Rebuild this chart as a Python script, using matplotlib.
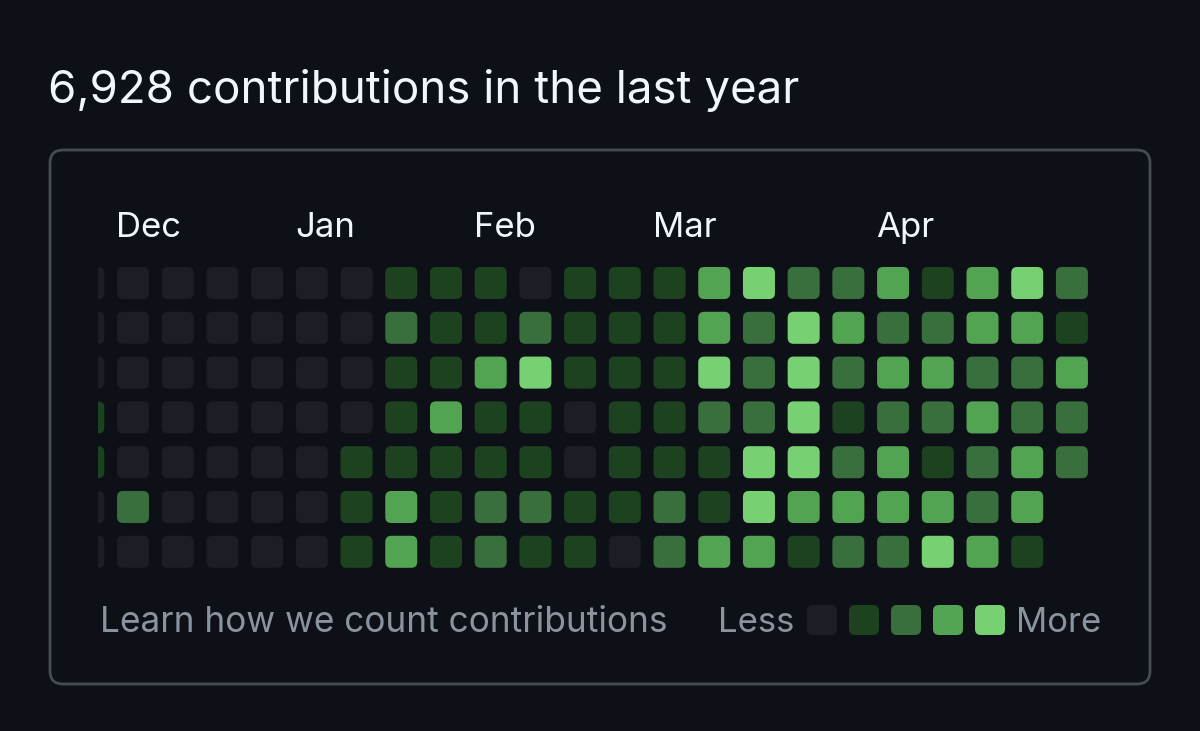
import numpy as np
import matplotlib
matplotlib.use("Agg")
import matplotlib.pyplot as plt
from matplotlib.patches import FancyBboxPatch

# ---- data ----
title = "6,928 contributions in the last year"
months = ["Dec", "Jan", "Feb", "Mar", "Apr"]
month_cols = [1, 5, 9, 13, 18]
# contribution levels (0-4), one list per week column, rows Sun..Sat; None = no day
weeks = [
    [0, 0, 0, 1, 1, 0, 0],
    [0, 0, 0, 0, 0, 2, 0],
    [0, 0, 0, 0, 0, 0, 0],
    [0, 0, 0, 0, 0, 0, 0],
    [0, 0, 0, 0, 0, 0, 0],
    [0, 0, 0, 0, 0, 0, 0],
    [0, 0, 0, 0, 1, 1, 1],
    [1, 2, 1, 1, 1, 3, 3],
    [1, 1, 1, 3, 1, 1, 1],
    [1, 1, 3, 1, 1, 2, 2],
    [0, 2, 4, 1, 1, 2, 1],
    [1, 1, 1, 0, 0, 1, 1],
    [1, 1, 1, 1, 1, 1, 0],
    [1, 1, 1, 1, 1, 2, 2],
    [3, 3, 4, 2, 1, 1, 3],
    [4, 2, 2, 2, 4, 4, 3],
    [2, 4, 4, 4, 4, 3, 1],
    [2, 3, 2, 1, 2, 3, 2],
    [3, 2, 3, 2, 3, 3, 2],
    [1, 2, 3, 2, 1, 3, 4],
    [3, 3, 2, 3, 2, 2, 3],
    [4, 3, 2, 2, 3, 3, 1],
    [2, 1, 3, 2, 2, None, None],
]
legend_levels = [0, 1, 2, 3, 4]
footer_text = "Learn how we count contributions"

# ---- style ----
bg = "#0d1117"
level_colors = ["#1b1e25", "#1d4220", "#386f3c", "#52a352", "#77d172"]
W, H = 1200, 731
font = ["Inter", "DejaVu Sans"]

fig = plt.figure(figsize=(W / 100, H / 100), dpi=100, facecolor=bg)

# overlay axes in pixel coords
ov = fig.add_axes([0, 0, 1, 1])
ov.set_xlim(0, W)
ov.set_ylim(H, 0)
ov.axis("off")
ov.set_facecolor("none")

ov.text(48, 103, title, color="#f0f6fc", fontsize=32.9, family=font,
        ha="left", va="baseline")

box = FancyBboxPatch((50, 150), 1100, 534,
                     boxstyle="round,pad=0,rounding_size=13",
                     facecolor=bg, edgecolor="#464b53", linewidth=2)
ov.add_patch(box)

# grid axes
col0_px, step_px = 88.3, 44.71
row0_px, rstep_px = 283.0, 44.8
left_px, right_px, top_px, bot_px = 98, 1105, 255, 580
gx = fig.add_axes([left_px / W, 1 - bot_px / H, (right_px - left_px) / W,
                   (bot_px - top_px) / H])
gx.set_xlim((left_px - col0_px) / step_px, (right_px - col0_px) / step_px)
gx.set_ylim((bot_px - row0_px) / rstep_px, (top_px - row0_px) / rstep_px)
gx.axis("off")
gx.set_facecolor("none")

half = 16 / step_px
rad = 6 / step_px
for c, week in enumerate(weeks):
    for r, lv in enumerate(week):
        if lv is None:
            continue
        p = FancyBboxPatch((c - half, r - half), 2 * half, 2 * half,
                           boxstyle=f"round,pad=0,rounding_size={rad}",
                           facecolor=level_colors[lv], edgecolor="none")
        gx.add_patch(p)

for m, c in zip(months, month_cols):
    gx.text(c - half - 0.02, -1.02, m, color="#f0f6fc", fontsize=25,
            family=font, ha="left", va="baseline", clip_on=False)

# footer
ov.text(100, 632, footer_text, color="#8b949e", fontsize=25.4, family=font,
        ha="left", va="baseline")
ov.text(718, 632, "Less", color="#8b949e", fontsize=25, family=font,
        ha="left", va="baseline")
ov.text(1016, 632, "More", color="#8b949e", fontsize=25, family=font,
        ha="left", va="baseline")
for i, lv in enumerate(legend_levels):
    cx = 822 + 42 * i
    p = FancyBboxPatch((cx - 15, 605), 30, 30,
                       boxstyle="round,pad=0,rounding_size=6",
                       facecolor=level_colors[lv], edgecolor="none")
    ov.add_patch(p)

fig.savefig("out.png", dpi=100, facecolor=bg)
